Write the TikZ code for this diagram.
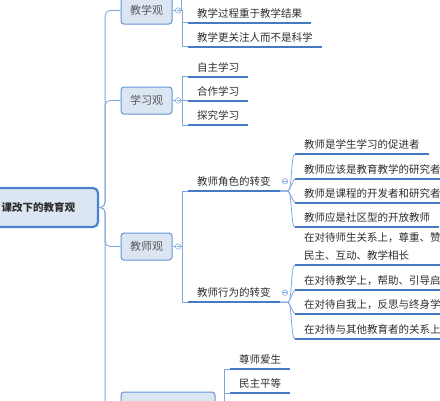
\documentclass[tikz,border=0pt]{standalone}
\usepackage{fontspec}
\usepackage{tikz}
\usetikzlibrary{positioning}
\newfontfamily\cjk{Noto Sans CJK SC}
\definecolor{boxfill}{RGB}{220,230,243}
\definecolor{boxline}{RGB}{100,150,215}
\definecolor{rootline}{RGB}{75,130,205}
\definecolor{linkblue}{RGB}{125,168,222}
\definecolor{ulblue}{RGB}{68,122,200}
\definecolor{inkgray}{RGB}{45,45,45}

\begin{document}
\begin{tikzpicture}[x=1pt, y=-1pt,
    rootbox/.style={draw=rootline, fill=boxfill, line width=2.2pt, rounded corners=5pt,
                    minimum width=119pt, minimum height=39pt,
                    font=\cjk\fontsize{10.5}{12}\selectfont\bfseries, text=inkgray},
    topic/.style={draw=boxline, fill=boxfill, line width=1pt, rounded corners=3pt,
                  minimum width=51pt, minimum height=27pt,
                  font=\cjk\fontsize{11}{13}\selectfont, text=inkgray!80},
    leaf/.style={anchor=south west, inner xsep=9pt, inner ysep=4.5pt, align=left,
                 font=\cjk\fontsize{10.5}{17.7}\selectfont, text=inkgray},
    fold/.style={circle, draw=linkblue, fill=white, line width=0.6pt, minimum size=5.5pt, inner sep=0pt,
                 path picture={\draw[linkblue, line width=0.5pt]
                   ([xshift=1.2pt]path picture bounding box.west) -- ([xshift=-1.2pt]path picture bounding box.east);}},
    link/.style={draw=linkblue, line width=0.8pt},
    uline/.style={draw=ulblue, line width=1.8pt},
]
\useasboundingbox (0,0) rectangle (440,400);
\clip (0,0) rectangle (440,400);

% root and main topics
\node[rootbox] (root) at (38.5,207.5) {课改下的教育观};
\node[topic] (jiaoxue) at (146.5,10.5) {教学观};
\node[topic] (xuexi) at (146.5,100.5) {学习观};
\node[topic] (jiaoshi) at (146.5,246.5) {教师观};
\node[topic, minimum width=94pt] (shisheng) at (168,405.5) {};

% leaves
\node[leaf] (t1) at (188,22.7) {教学过程重于教学结果};
\node[leaf] (t2) at (188,46.7) {教学更关注人而不是科学};
\node[leaf] (s1) at (188,76.7) {自主学习};
\node[leaf] (s2) at (188,100.7) {合作学习};
\node[leaf] (s3) at (188,125.3) {探究学习};
\node[leaf] (r0) at (188,191) {教师角色的转变};
\node[leaf] (b0) at (188,302.3) {教师行为的转变};
\node[leaf] (r1) at (295,154.3) {教师是学生学习的促进者};
\node[leaf] (r2) at (295,179) {教师应该是教育教学的研究者};
\node[leaf] (r3) at (295,202.7) {教师是课程的开发者和研究者};
\node[leaf] (r4) at (295,227.3) {教师应是社区型的开放教师};
\node[leaf] (b1) at (295,265) {在对待师生关系上，尊重、赞\\民主、互动、教学相长};
\node[leaf] (b2) at (295,290) {在对待教学上，帮助、引导启};
\node[leaf] (b3) at (295,314) {在对待自我上，反思与终身学};
\node[leaf] (b4) at (295,339) {在对待与其他教育者的关系上};
\node[leaf] (m1) at (230,369) {尊师爱生};
\node[leaf] (m2) at (230,393) {民主平等};

% fold markers
\node[fold, right=2.5pt of jiaoxue] (fd1) {};
\node[fold, right=2.5pt of xuexi] (fd2) {};
\node[fold, right=2.5pt of jiaoshi] (fd3) {};
\node[fold, right=2pt of r0] (fd4) {};
\node[fold, right=2pt of b0] (fd5) {};
\coordinate (tj) at (181.7,-8);

% trunk
\foreach \t in {jiaoxue,xuexi,jiaoshi,shisheng}
  \draw[link, rounded corners=5pt] (root.east) -- ++(6,0) |- (\t.west);

% main topics to leaves
\draw[link] (jiaoxue) -- (fd1);
\draw[link] (xuexi) -- (fd2);
\draw[link] (jiaoshi) -- (fd3);
\draw[link] (fd1.east) -| (tj);
\foreach \c in {t1,t2}
  \draw[link] (fd1.east) -- ++(1.7,0) |- (\c.south west);
\foreach \c in {s1,s2,s3}
  \draw[link] (fd2.east) -- ++(1.7,0) |- (\c.south west);
\foreach \c in {r0,b0}
  \draw[link] (fd3.east) -- ++(1.7,0) |- (\c.south west);
\foreach \c in {r1,r2,r3,r4}
  \draw[link] (r0.south east) -- ++(8,0) to[out=0, in=180, looseness=0.3] (\c.south west);
\foreach \c in {b1,b2,b3,b4}
  \draw[link] (b0.south east) -- ++(8,0) to[out=0, in=180, looseness=0.3] (\c.south west);
\foreach \c in {m1,m2}
  \draw[link] (shisheng.east) -- ++(9,0) |- (\c.south west);

% underlines
\foreach \n in {t1,t2,s1,s2,s3,r0,b0,r1,r2,r3,r4,b1,b2,b3,b4,m1,m2}
  \draw[uline] (\n.south west) -- (\n.south east);

\end{tikzpicture}
\end{document}
